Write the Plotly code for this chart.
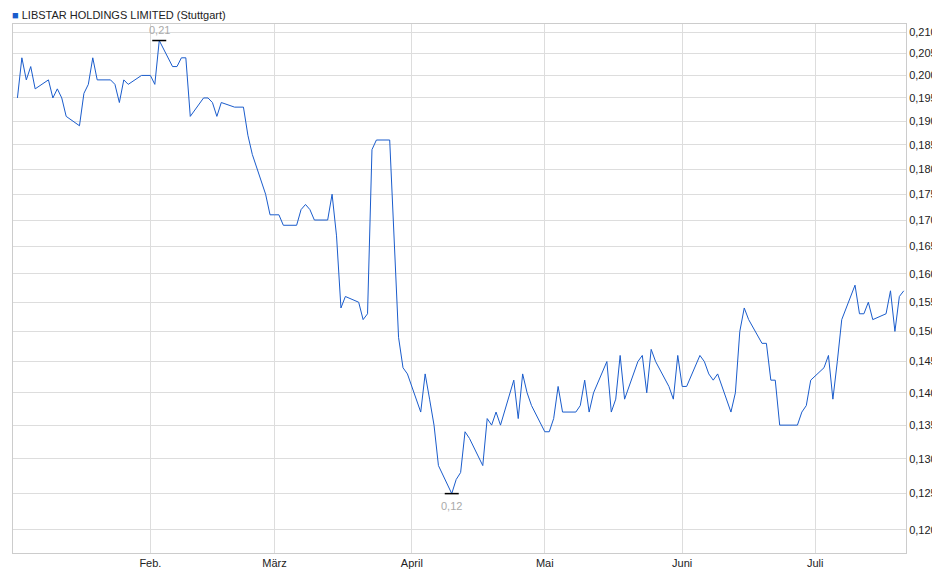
import pandas as pd
import numpy as np
import plotly.graph_objs as go

# Schlusskurse, ein Wert pro Handelstag ab Anfang Januar
kurse = [0.195, 0.204, 0.199, 0.202, 0.197, 0.199, 0.195, 0.197, 0.195, 0.191,
         0.189, 0.196, 0.198, 0.204, 0.199, 0.199, 0.198, 0.194, 0.199, 0.198,
         0.200, 0.200, 0.200, 0.198, 0.208, 0.202, 0.202, 0.204, 0.204, 0.191,
         0.195, 0.195, 0.194, 0.191, 0.194, 0.193, 0.193, 0.193, 0.187, 0.183,
         0.175, 0.171, 0.171, 0.171, 0.169, 0.169, 0.172, 0.173, 0.172, 0.170,
         0.170, 0.175, 0.167, 0.154, 0.156, 0.155, 0.152, 0.153, 0.184, 0.186,
         0.186, 0.165, 0.149, 0.144, 0.143, 0.137, 0.143, 0.139, 0.135, 0.129,
         0.125, 0.127, 0.128, 0.134, 0.133, 0.129, 0.136, 0.135, 0.137, 0.135,
         0.142, 0.136, 0.143, 0.140, 0.138, 0.134, 0.134, 0.136, 0.141, 0.137,
         0.137, 0.138, 0.142, 0.137, 0.140, 0.145, 0.137, 0.139, 0.146, 0.139,
         0.145, 0.146, 0.140, 0.147, 0.145, 0.141, 0.139, 0.146, 0.141, 0.141,
         0.146, 0.145, 0.143, 0.142, 0.143, 0.137, 0.140, 0.150, 0.154, 0.152,
         0.148, 0.148, 0.142, 0.142, 0.135, 0.135, 0.135, 0.137, 0.138, 0.142,
         0.144, 0.146, 0.139, 0.145, 0.152, 0.158, 0.153, 0.153, 0.155, 0.152,
         0.153, 0.157, 0.150, 0.156, 0.157]
datum = pd.bdate_range('2023-01-02', periods=len(kurse))

monate = ['2023-02-01', '2023-03-01', '2023-04-01', '2023-05-01', '2023-06-01', '2023-07-01']
monat_namen = ['Feb.', 'März', 'April', 'Mai', 'Juni', 'Juli']
y_ticks = [0.120, 0.125, 0.130, 0.135, 0.140, 0.145, 0.150, 0.155, 0.160, 0.165,
           0.170, 0.175, 0.180, 0.185, 0.190, 0.195, 0.200, 0.205, 0.210]

i_max = int(np.argmax(kurse))
i_min = int(np.argmin(kurse))

fig = go.Figure()
fig.add_trace(go.Scatter(x=datum, y=kurse, mode='lines',
                         line=dict(color='#1a5ccc', width=1), hoverinfo='x+y'))
# Markierungen für Hoch und Tief
fig.add_trace(go.Scatter(x=[datum[i_max], datum[i_min]], y=[kurse[i_max], kurse[i_min]],
                         mode='markers', marker=dict(symbol='line-ew', size=10,
                         line=dict(color='black', width=1.5))))

# log-Achse: Annotationen brauchen log10-Werte
fig.add_annotation(x=datum[i_max], y=np.log10(kurse[i_max]), text='0,21', showarrow=False,
                   yshift=11, font=dict(color='#aaaaaa', size=11))
fig.add_annotation(x=datum[i_min], y=np.log10(kurse[i_min]), text='0,12', showarrow=False,
                   yshift=-12, font=dict(color='#aaaaaa', size=11))
fig.add_annotation(xref='paper', yref='paper', x=-0.003, y=1.0, yshift=1, xanchor='left',
                   yanchor='bottom', showarrow=False,
                   text='<span style="color:#1a5ccc">■</span> LIBSTAR HOLDINGS LIMITED (Stuttgart)',
                   font=dict(size=11, color='#222'))

fig.update_layout(
    width=940, height=579, showlegend=False,
    margin=dict(l=5, r=42, t=16, b=34, autoexpand=False),
    paper_bgcolor='white', plot_bgcolor='white',
    separators=',.',
    font=dict(family='Liberation Sans, Arial', size=11, color='#222'),
    xaxis=dict(range=[datum[0] - pd.Timedelta(days=1), datum[-1] + pd.Timedelta(days=0.5)],
               tickvals=monate, ticktext=monat_namen, showgrid=True, gridcolor='#dddddd',
               showline=True, linecolor='#cccccc', mirror=True, ticks='', zeroline=False),
    yaxis=dict(type='log', side='right', range=[np.log10(0.11693), np.log10(0.2119)],
               tickvals=y_ticks, tickformat='.3f', showgrid=True, gridcolor='#dddddd',
               showline=True, linecolor='#cccccc', mirror=True, ticks='', zeroline=False),
)

fig.write_html("out.html")
